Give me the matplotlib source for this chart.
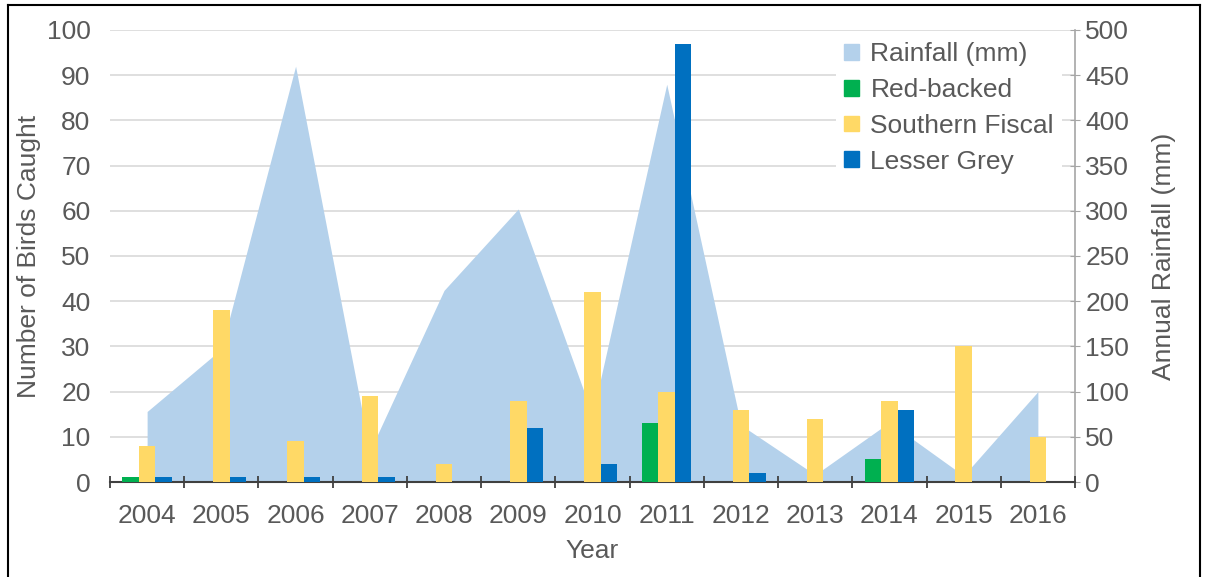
import numpy as np
import matplotlib
matplotlib.use("Agg")
import matplotlib.pyplot as plt
from matplotlib.lines import Line2D
from matplotlib.patches import Patch

plt.rcParams['font.family'] = ['Liberation Sans', 'DejaVu Sans']

years = ['2004', '2005', '2006', '2007', '2008', '2009', '2010',
         '2011', '2012', '2013', '2014', '2015', '2016']
rainfall = [78, 147, 460, 34, 212, 302, 74, 440, 63, 8, 66, 7, 100]
red_backed = [1, 0, 0, 0, 0, 0, 0, 13, 0, 0, 5, 0, 0]
southern_fiscal = [8, 38, 9, 19, 4, 18, 42, 20, 16, 14, 18, 30, 10]
lesser_grey = [1, 1, 1, 1, 0, 12, 4, 97, 2, 0, 16, 0, 0]

grey_txt = '#595959'
c_rain = '#B4D1EB'
c_green = '#00B050'
c_yellow = '#FFD966'
c_blue = '#0070C0'
fs = 19

x = np.arange(len(years))
w = 0.222

fig = plt.figure(figsize=(12.05, 5.77), dpi=100)
ax = fig.add_axes([110 / 1205, 1 - 482 / 577, 965 / 1205, 452 / 577])
ax2 = ax.twinx()

# rainfall area on the lower (twin) axes, bars on top
ax.set_zorder(ax2.get_zorder() + 1)
ax.patch.set_visible(False)

ax2.fill_between(x, 0, rainfall, color=c_rain, lw=0, zorder=2)
ax2.set_ylim(0, 500)
ax2.set_yticks(np.arange(0, 501, 50))
ax2.grid(axis='y', color='#D9D9D9', lw=1.2, zorder=0)
ax2.set_axisbelow(True)
ax2.tick_params(axis='y', colors='#A6A6A6', labelcolor=grey_txt,
                labelsize=fs, direction='inout', length=7, pad=4)
ax2.set_ylabel('Annual Rainfall (mm)', color=grey_txt, fontsize=fs, labelpad=16)
for s in ['top', 'left', 'bottom']:
    ax2.spines[s].set_visible(False)
ax2.spines['right'].set_color('#A6A6A6')
ax2.spines['right'].set_linewidth(1.2)

ax.bar(x - w, red_backed, w, color=c_green, zorder=3)
ax.bar(x, southern_fiscal, w, color=c_yellow, zorder=3)
ax.bar(x + w, lesser_grey, w, color=c_blue, zorder=3)

ax.set_xlim(-0.5, len(years) - 0.5)
ax.set_ylim(0, 100)
ax.set_yticks(np.arange(0, 101, 10))
ax.set_xticks(x)
ax.set_xticklabels(years)
ax.set_xticks(np.arange(-0.5, len(years), 1), minor=True)
ax.tick_params(axis='x', which='major', length=0, pad=16,
               labelsize=fs, labelcolor=grey_txt)
ax.tick_params(axis='x', which='minor', length=8, direction='inout',
               color='#404040', width=1.3)
ax.tick_params(axis='y', length=0, pad=14, labelsize=fs, labelcolor=grey_txt)
ax.set_ylabel('Number of Birds Caught', color=grey_txt, fontsize=fs, labelpad=4)
ax.set_xlabel('Year', color=grey_txt, fontsize=fs, labelpad=8)
for s in ['top', 'left', 'right']:
    ax.spines[s].set_visible(False)
ax.spines['bottom'].set_color('#404040')
ax.spines['bottom'].set_linewidth(1.5)

handles = [Patch(color=c_rain), Patch(color=c_green),
           Patch(color=c_yellow), Patch(color=c_blue)]
labels = ['Rainfall (mm)', 'Red-backed', 'Southern Fiscal', 'Lesser Grey']
leg = ax.legend(handles, labels, loc='upper right', bbox_to_anchor=(1.0, 1.02),
                fontsize=fs, frameon=True, facecolor='white', edgecolor='white',
                framealpha=1, handlelength=0.55, handleheight=0.55, handletextpad=0.45,
                labelspacing=0.45, borderpad=0.3)
for t in leg.get_texts():
    t.set_color(grey_txt)
leg.get_frame().set_linewidth(0)

# outer frame
fig.add_artist(Line2D([8 / 1205, 8 / 1205], [0, 1 - 5 / 577], color='black', lw=1.5))
fig.add_artist(Line2D([8 / 1205, 1200 / 1205], [1 - 5 / 577, 1 - 5 / 577], color='black', lw=1.5))
fig.add_artist(Line2D([1200 / 1205, 1200 / 1205], [0, 1 - 5 / 577], color='black', lw=1.5))

fig.savefig('out.png', dpi=100)
